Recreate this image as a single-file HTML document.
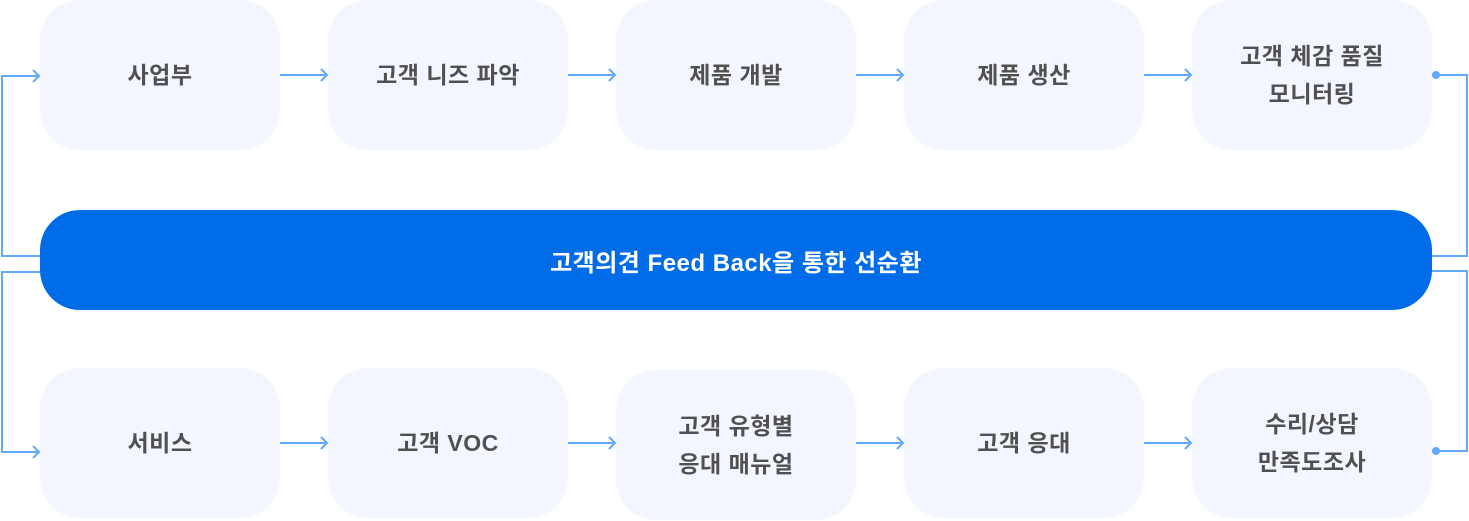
<!DOCTYPE html>
<html><head><meta charset="utf-8"><style>
body{margin:0;width:1469px;height:521px;background:#fff;position:relative;overflow:hidden;font-family:"Liberation Sans","Noto Sans CJK KR",sans-serif}
.b{position:absolute;width:240px;height:150px;background:#f3f6fe;border-radius:40px;display:flex;align-items:center;justify-content:center;text-align:center;color:#505050;font-weight:bold;font-size:23px;letter-spacing:0.5px;line-height:38px}
.bar{position:absolute;left:40px;top:210px;width:1392px;height:100px;background:#006ce8;border-radius:40px;color:#fff;font-weight:bold;font-size:24px;letter-spacing:0.5px;display:flex;align-items:center;justify-content:center}
svg{position:absolute;left:0;top:0}
</style></head><body>
<div class="b" style="left:40px;top:0">사업부</div>
<div class="b" style="left:328px;top:0">고객 니즈 파악</div>
<div class="b" style="left:616px;top:0">제품 개발</div>
<div class="b" style="left:904px;top:0">제품 생산</div>
<div class="b" style="left:1192px;top:0">고객 체감 품질<br>모니터링</div>
<div class="bar">고객의견 Feed Back을 통한 선순환</div>
<div class="b" style="left:40px;top:368px">서비스</div>
<div class="b" style="left:328px;top:368px">고객 VOC</div>
<div class="b" style="left:616px;top:370px">고객 유형별<br>응대 매뉴얼</div>
<div class="b" style="left:904px;top:368px">고객 응대</div>
<div class="b" style="left:1192px;top:368px">수리/상담<br>만족도조사</div>
<svg width="1469" height="521" fill="none" stroke="#62a8fb" stroke-width="2">
<path d="M40 256H2V76H38M33 70l6 6-6 6"/>
<path d="M40 272H2V452H38M33 446l6 6-6 6"/>
<g>
<path d="M280 75H327M321 69l6 6-6 6"/><path d="M568 75H615M609 69l6 6-6 6"/><path d="M856 75H903M897 69l6 6-6 6"/><path d="M1144 75H1191M1185 69l6 6-6 6"/>
<path d="M280 443H327M321 437l6 6-6 6"/><path d="M568 443H615M609 437l6 6-6 6"/><path d="M856 443H903M897 437l6 6-6 6"/><path d="M1144 443H1191M1185 437l6 6-6 6"/>
</g>
<path d="M1436 75H1467V256H1432"/>
<path d="M1432 271H1467V451H1436"/>
<circle cx="1436" cy="75" r="4" fill="#62a8fb" stroke="none"/>
<circle cx="1436" cy="451" r="4" fill="#62a8fb" stroke="none"/>
</svg>
</body></html>
